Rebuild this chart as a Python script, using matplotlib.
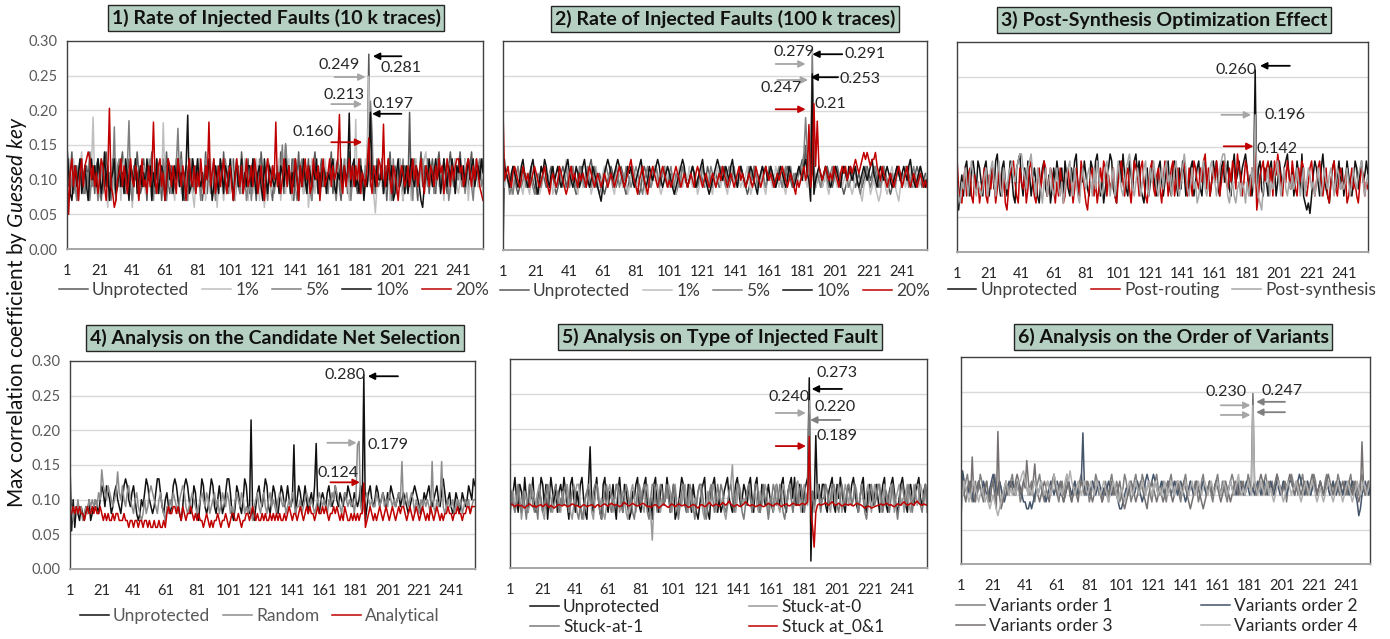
import numpy as np
import matplotlib.pyplot as plt

plt.rcParams['font.family'] = ['Lato', 'DejaVu Sans']
plt.rcParams['mathtext.fontset'] = 'custom'
plt.rcParams['mathtext.rm'] = 'Lato'
plt.rcParams['mathtext.it'] = 'Lato:italic'


def vals(s):
    # values typed in hundredths, 16 per row
    return np.array(s.split(), dtype=float) / 100


# ---------------- data (x = 1..256) ----------------
# 1) rate of injected faults, 10 k traces
p1_unprot = vals("""
13 9 11 14 8 10 12 7 11 13 9 8 12 10 14 9
11 8 12 13 9 7 10 12 14 9 11 8 13 10 7 12
9 12 14 10 8 11 13 9 7 12 10 14 11 8 9 13
10 7 12 11 14 9 8 13 10 12 7 11 9 14 10 8
12 10 8 13 11 9 14 10 7 12 9 11 13 8 10 12
9 13 11 7 10 14 8 12 11 9 13 10 7 11 12 9
14 10 8 12 9 11 13 7 10 12 8 14 11 9 10 13
8 11 13 10 7 12 9 14 11 8 10 13 12 9 7 11
10 12 9 14 11 8 15 10 12 9 13 7 11 10 14 9
12 8 11 10 13 9 7 12 14 10 8 11 13 9 12 10
9 11 14 8 10 12 13 9 7 11 10 12 8 14 11 9
12 10 8 11 13 9 8 11 12 28.1 9 12 10 8 13 11
10 13 9 12 7 11 14 10 8 12 11 9 13 10 7 12
11 9 19.7 8 12 13 10 7 11 14 9 12 10 13 8 11
13 10 8 12 14 11 9 13 10 8 12 14 11 9 13 10
12 14 10 9 13 11 8 12 14 10 11 13 9 12 11 13
""")
p1_1 = vals("""
9 12 8 11 13 10 7 9 12 14 8 10 11 7 9 12
19 9 11 7 8 12 10 13 9 6 11 10 8 12 13 9
12 7 10 13 9 8 11 12 6 9 13 10 7 11 9 12
8 11 13 9 7 10 12 8 11 13 9 18.2 10 7 12 9
11 9 7 12 10 13 8 11 9 7 12 10 13 8 6 10
10 13 9 8 11 7 12 10 13 9 8 11 6 10 12 9
7 10 12 11 8 13 9 7 11 10 12 8 9 13 10 7
12 9 8 10 13 11 7 12 9 6 10 13 11 8 12 10
9 11 13 7 10 12 8 11 13 9 7 10 12 11 8 9
11 8 10 12 6 9 13 10 8 11 12 7 9 10 13 11
8 12 9 11 13 7 10 12 9 8 11 13 10 7 9 12
10 18.7 9 12 11 8 10 13 11 24.9 13 10 8 5.2 9 11
12 9 11 8 10 13 7 9 12 10 8 11 13 9 7 10
9 12 10 7 11 9 13 10 8 12 11 13 14 10 9 12
11 8 13 10 9 12 10 7 11 13 9 8 12 10 13 9
8 10 12 9 13 11 7 10 12 8 11 13 9 10 12 8
""")
p1_5 = vals("""
11 13 8 10 12 9 7 11 13 10 8 12 9 11 7 10
9 12 10 7 11 13 8 10 12 9 11 7 10 17.6 8 12
13 9 11 8 10 12 18.5 9 7 11 13 10 8 12 9 11
10 8 12 13 9 7 11 10 12 8 9 13 11 7 10 12
8 11 9 12 17.4 10 13 8 11 9 7 12 10 13 9 8
12 10 7 11 9 13 10 12 8 11 10 7 12 9 13 10
9 13 11 8 12 10 7 11 13 9 8 12 10 11 7 9
11 7 10 12 9 8 13 10 11 12 9 7 11 10 12 8
10 12 9 11 15 9 15.2 12 10 8 11 13 9 7 10 12
13 9 11 8 10 12 7 9 13 11 10 8 12 10 9 11
8 11 13 10 9 7 12 11 8 10 13 9 11 12 7 10
12 9 10 13 8 11 10 12 9 11 21.3 17 8 12 10 9
10 13 8 9 12 10 11 7 13 9 8 12 10 11 13 8
9 11 12 10 7 13 9 11 10 12 13 8 11 9 12 10
12 8 10 13 11 9 12 8 10 11 7 9 13 10 8 11
10 12 9 11 8 10 13 12 9 7 11 10 12 13 9 10
""")
p1_10 = vals("""
14.8 11 8 7 10 12 9 11 13 8 10 12 9 7 11 13
10 12 9 13 11 8 10 14 9 12 7 10 11 13 8 9
12 9 11 8 13 10 7 12 11 9 13 8 10 12 9 11
9 13 10 12 7 11 9 13 8 10 12 11 7 9 13 10
11 8 12 10 13 9 11 7 10 12 19.3 8 9 13 11 10
13 10 9 11 8 12 10 13 11 7 9 12 10 8 13 11
8 12 11 9 13 10 7 11 12 9 10 13 8 11 9 12
12 9 13 10 8 11 12 9 7 13 10 8 12 11 10 9
10 11 8 12 11 9 13 10 12 8 11 9 13 10 7 12
9 13 10 8 12 11 9 12 10 13 8 11 9 12 11 8
11 10 12 13 9 8 11 10 13 9 12 10 11 19.6 9 12
13 9 10 8 12 11 7 10 9 12 19.7 10 11 9 12 10
10 12 8 11 9 13 10 12 7 8 11 13 9 10 12 8
12 8 11 13 10 9 12 11 9 7 6 9 12 10 13 11
9 11 13 10 12 8 10 13 11 9 12 10 13 11 8 12
11 13 10 12 9 11 13 10 12 13 9 11 12 10 13 11
""")
p1_20 = vals("""
12 5 11 13 9 12 10 7 11 13 9 12 13 14 13 10
12 9 11 8 10 13 12 9 7 11 20.3 9 8 6 7 10
11 13 9 12 10 8 11 13 10 9 12 11 7 10 13 9
10 8 12 9 11 18.3 10 8 12 13 9 11 7 10 13 12
9 12 10 8 13 11 9 12 10 7 11 13 10 9 12 8
11 9 13 10 8 12 10 18.3 9 11 13 8 10 12 9 11
13 10 8 11 12 9 7 10 13 11 9 12 8 10 13 9
10 12 9 13 11 8 10 12 9 7 11 13 10 9 12 10
18.3 9 11 8 10 13 11 9 12 10 8 11 13 10 7 12
9 11 13 10 12 8 9 13 11 10 12 7 11 13 9 10
11 13 9 12 10 11 13 19.4 10 8 12 9 11 13 10 12
9 12 10 13 8 11 10 9 12 16 10 8 12 11 9 13
12 10 18 9 11 13 10 8 12 11 9 7 10 12 11 9
10 12 9 11 13 10 12 9 11 13 10 8 12 11 9 12
11 9 12 10 13 11 12 8 10 13 11 9 12 10 12 13
13 11 12 9 10 12 13 11 9 12 10 13 11 9 8 7
""")

# 2) rate of injected faults, 100 k traces
p2_unprot = vals("""
0 12 11 10 9 10 12 11 9 8 9 11 12 10 9 10
11 12 10 9 8 9 10 12 11 10 9 10 11 12 11 9
8 9 10 11 12 11 9 10 11 12 10 9 8 9 11 12
11 10 9 10 12 13 11 10 9 10 11 10 9 8 9 10
11 12 11 10 9 10 11 12 11 9 8 9 10 11 12 11
10 9 8 9 11 12 11 10 9 10 11 12 12 10 9 10
11 12 10 9 10 11 10 9 8 9 10 11 12 11 10 9
10 11 12 11 10 9 10 11 10 9 10 12 11 10 9 10
11 10 9 10 11 12 11 10 9 10 11 10 9 10 11 12
11 10 9 8 9 10 11 12 11 10 9 10 11 10 9 10
11 12 11 10 9 10 11 10 9 10 11 12 11 10 9 10
11 10 11 12 13 12 15 11 10 9 24.7 10 9 10 11 10
9 10 11 12 11 10 9 10 11 12 11 10 9 8 9 10
11 12 11 10 9 10 11 10 9 10 11 12 11 10 11 12
11 10 9 10 11 12 11 10 9 8 9 10 11 12 11 10
9 10 11 12 11 10 9 10 11 12 11 10 9 10 11 10
""")
p2_1 = vals("""
10 9 11 12 10 8 9 11 10 12 11 9 8 10 11 9
8 10 12 11 9 10 8 9 11 12 10 9 11 10 8 9
11 12 10 9 10 11 13 11 9 10 12 11 9 8 10 11
9 10 12 11 10 8 9 11 12 10 9 10 11 12 10 9
10 11 9 8 10 12 11 10 9 11 10 8 9 11 12 10
11 9 10 12 11 9 8 10 11 9 10 12 11 10 9 8
9 11 12 10 9 10 11 9 8 10 12 11 9 10 11 10
12 10 9 11 10 8 9 11 12 10 9 11 10 9 8 10
11 12 10 9 11 10 9 8 10 11 12 10 9 11 10 9
10 9 11 12 10 8 9 10 12 11 9 10 11 9 8 10
11 10 9 10 12 11 9 10 11 9 8 10 12 11 10 9
10 11 9 10 11 12 10 9 11 12 29.1 11 9 10 12 10
9 10 11 9 8 10 11 12 10 9 10 11 9 10 11 9
10 9 8 9 11 10 9 8 7 9 10 11 10 8 9 10
9 8 7 8 10 11 9 8 9 11 12 10 9 8 7 9
10 11 9 10 12 11 10 9 10 11 9 10 11 9 10 11
""")
p2_5 = vals("""
12 13 11 10 8 9 8 10 11 12 10 9 10 11 9 10
11 10 9 8 9 11 10 9 11 12 11 10 9 10 11 10
9 10 11 10 9 11 12 10 9 11 12 10 9 10 12 11
10 9 11 12 10 9 10 12 11 9 8 9 10 11 12 11
10 11 9 10 12 11 9 10 11 10 12 11 10 9 10 11
12 11 10 9 8 10 11 12 10 9 10 11 12 11 9 10
11 12 10 9 11 12 10 9 11 10 9 10 12 11 10 9
10 11 12 11 9 10 11 10 12 11 10 9 10 12 11 10
9 10 11 12 11 10 9 11 12 10 11 12 10 9 11 12
11 10 9 10 12 11 10 12 11 9 10 11 12 10 9 10
12 11 10 9 10 11 12 10 9 11 12 10 11 12 10 11
10 11 12 11 12 14 19 14 11 10 27.9 12 10 11 10 9
10 11 12 10 9 11 12 10 11 12 10 9 11 12 11 10
9 10 11 12 11 10 9 8 10 11 12 11 10 9 10 11
12 11 10 9 10 12 11 10 9 10 11 10 9 11 12 10
11 10 12 11 9 10 11 12 10 9 11 12 10 9 10 10
""")
p2_10 = vals("""
11 12 11 10 9 11 12 11 10 9 10 12 13 11 10 9
10 12 13 11 9 8 10 12 11 13 12 10 9 11 12 10
11 12 10 9 10 11 12 13 11 10 9 10 12 11 9 10
12 13 11 10 9 10 12 11 10 9 8 7 9 11 12 13
12 11 10 11 12 13 12 11 10 9 10 12 11 12 10 9
10 11 12 13 11 10 9 10 12 11 10 11 12 13 12 10
9 10 11 12 11 10 9 8 9 10 11 12 13 12 10 9
10 11 12 11 9 10 11 12 13 11 10 9 8 9 10 11
12 13 12 11 10 11 12 11 10 12 13 11 10 9 11 12
11 10 9 10 11 12 11 10 9 8 10 11 12 11 12 10
11 12 11 10 9 10 11 12 11 10 9 10 12 11 10 9
10 11 12 11 10 12 13 11 10 7 25.3 8 10 11 12 11
10 11 12 11 10 9 10 11 12 11 10 9 11 12 11 10
12 11 10 11 12 10 9 10 11 12 11 10 11 12 13 11
10 9 11 12 11 10 11 12 11 10 9 10 11 12 11 10
11 12 11 10 12 13 11 10 9 10 11 12 11 10 9 10
""")
p2_20 = vals("""
20 10 11 12 10 9 11 12 11 10 9 10 12 11 10 11
9 10 11 12 11 10 9 10 11 12 10 9 8 10 11 10
9 10 12 11 10 9 8 9 11 12 10 11 10 9 11 10
11 10 9 11 12 11 10 9 10 11 10 9 10 11 10 9
10 11 10 9 10 11 12 11 10 9 10 11 12 13 11 10
9 8 10 11 12 10 9 8 10 11 12 11 10 9 10 11
12 11 10 9 10 9 10 11 12 11 10 9 10 11 10 9
10 11 10 9 11 12 11 10 9 10 11 10 9 10 11 10
9 10 11 10 12 11 10 9 10 11 10 9 10 11 12 10
11 10 9 10 11 10 9 10 12 11 10 9 10 11 12 11
10 11 10 9 10 11 10 11 12 11 10 9 10 11 10 9
8 10 9 10 11 12 10 11 18 9 11 21 12 18.5 12 11
10 11 12 11 10 11 10 12 11 10 9 11 12 11 12 10
11 12 11 12 13 12 11 12 13 14 13 14 13 12 13 13
14 12 11 10 12 11 10 9 10 11 10 9 10 11 12 11
9 10 11 12 10 9 10 11 10 9 10 11 10 9 10 9
""")

# 3) post-synthesis optimization effect
p3_unprot = vals("""
7 6 9 11 8 12 13 10 8 12 13 11 9 13 12 10
8 12 13 10 8 11 12 9 13 14 10 8 12 13 10 8
10 13 11 8 7 12 13 14 10 8 12 9 13 11 8 10
12 10 8 7 10 12 13 9 8 11 7 9 12 10 13 11
9 12 8 13 11 9 8 12 10 13 14 9 8 12 10 13
11 9 8 13 12 10 13 14 11 8 10 7 9 11 12 14
13 9 8 7 12 13 10 14 11 9 8 13 11 9 13 14
11 13 9 8 7 10 12 8 10 13 11 9 8 12 13 10
8 10 12 13 9 8 12 13 10 8 12 9 13 11 8 10
9 12 13 8 10 12 13 9 8 12 13 10 11 8 10 13
11 13 9 8 12 13 10 11 13 9 8 12 14 10 11 13
10 12 13 14 12 9 11 8 10 26 8 12 13 9 8 12
10 8 12 13 9 12 8 10 13 11 9 12 13 14 11 9
12 8 10 13 11 9 14 8 7 6 7 5.5 8 11 13 12
10 8 12 14 11 9 8 7 10 12 13 9 11 13 9 12
8 10 13 11 9 8 10 13 12 9 11 13 10 11 13 11
""")
p3_routing = vals("""
13.5 9 8 7 10 12 8 11 12 8 7 11 9 10 7 9
10 12 8 7 11 9 12 10 7 9 12 10 8 11 7 6
9 11 12 13 10 8 7 12 10 9 11 7 9 12 13 10
8 7 10 12 9 11 13 12 8 10 12 11 9 7 10 8
12 10 7 8 11 12 9 10 7 9 12 10 8 13 11 9
7 6 9 11 12 8 10 7 9 12 10 13 12 8 11 9
10 12 8 7 10 12 13 10 8 11 12 9 7 10 13 12
11 8 12 13 10 8 7 10 12 13 9 8 11 12 9 7
10 13 12 8 10 12 13 8 10 12 9 11 12 13 10 8
12 10 8 13 12 10 9 12 10 13 14 9 12 8 10 12
10 13 11 8 10 12 13 10 9 12 10 13 12 9 14 12
11 8 10 13 12 9 8 12 10 14.2 6 8 11 12 13 10
12 13 10 12 8 13 11 14 12 10 8 12 10 13 11 9
13 11 9 8 12 10 13 12 9 8 10 12 13 10 8 10
12 13 10 8 10 12 8 7 10 12 13 9 8 11 12 10
9 11 7 8 10 12 9 10 8 7 10 12 11 8 10 9
""")
p3_synth = vals("""
10 8 7 10 9 12 10 8 11 13 11 9 8 10 9 8
9 11 12 8 10 12 13 10 8 11 13 9 8 12 10 9
11 12 13 11 10 12 13 14 14 12 11 9 12 13 14 11
10 8 12 10 9 7 10 12 8 10 12 9 8 10 12 9
8 10 7 9 11 12 13 10 8 12 10 8 7 10 12 10
9 11 12 10 8 12 9 13 11 9 8 10 12 13 10 8
10 12 8 10 13 11 9 8 10 12 13 14 12 9 8 10
12 10 8 10 12 13 9 8 12 10 13 11 9 8 10 12
9 12 13 10 11 8 10 12 13 9 8 10 12 14 12 9
8 10 12 9 10 7 8 10 12 13 9 8 10 12 13 11
10 8 10 12 13 14 14 11 8 7 9 10 8 7 9 10
8 10 9 7 10 8 10 12 9 19.6 10 8 7 6 9 10
10 12 8 10 9 11 12 13 10 8 10 12 9 8 10 9
11 9 10 12 10 8 10 12 8 10 12 11 9 10 8 10
12 10 8 10 12 10 9 11 12 10 8 10 12 11 9 10
9 10 12 10 8 10 12 10 9 11 12 13 10 8 10 11
""")

# 4) candidate net selection
p4_unprot = vals("""
15 5.5 10 6 9 8 7 9 8 7 9 8 10 7 8 9
10 9 8 10 12 11 9 12 11 10 8 9 11 12 10 9
8 10 12 13 12 10 9 11 12 10 8 7 8 10 9 11
13 12 10 9 8 9 11 13 13 11 9 8 10 11 9 8
9 12 13 12 10 8 7 9 12 13 12 10 8 9 12 11
8 7 10 13 12 9 8 9 11 13 12 9 8 10 12 10
8 9 11 13 13 11 8 7 9 12 11 9 8 10 13 12
9 8 21.5 8 7 9 11 12 10 9 11 13 12 9 8 10
12 11 9 8 10 12 11 9 10 12 10 9 10 17.9 8 10
12 11 9 10 12 10 8 10 11 9 12 18.1 9 8 10 11
10 9 11 12 10 9 10 12 10 9 11 10 9 11 10 12
11 10 9 11 10 9 10 12 9 28 7 9 11 12 10 9
10 12 11 9 10 11 10 9 11 10 12 11 10 9 10 11
9 10 11 10 9 8 9 10 11 12 11 10 9 8 9 11
10 11 12 10 9 10 11 12 10 9 11 13 11 9 10 11
9 8 9 11 10 8 9 11 10 9 10 12 11 10 13 12
""")
p4_random = vals("""
8 9 7 9 8 10 8 9 7 8 9 8 10 9 10 9
10 9 11 10 14.3 12 11 10 12 11 10 9 10 11 14 11
10 12 10 9 11 12 10 9 8 10 11 9 8 7 8 10
8 9 11 12 11 10 9 8 10 11 9 8 7 9 8 10
9 11 10 9 8 10 11 12 11 9 8 9 10 11 10 9
8 9 10 11 10 9 11 10 8 9 10 11 9 10 8 9
11 10 9 11 10 8 9 8 10 11 10 9 11 10 8 9
8 9 8 7 9 10 11 9 8 10 11 9 8 10 11 9
10 9 8 10 11 10 9 10 8 9 10 9 11 10 8 9
9 10 8 9 10 11 10 9 10 9 8 9 10 11 10 9
10 9 8 10 9 11 10 12 11 10 9 8 10 11 10 9
10 9 10 8 10 17.9 18.4 9 8 9 10 11 10 9 10 9
9 11 10 9 10 11 9 10 9 11 10 9 10 9 10 11
10 15.5 9 10 11 9 10 11 10 8 10 9 8 10 9 10
9 10 9 8 15.5 9 8 10 9 10 15.5 9 8 9 10 9
9 10 8 9 10 9 10 8 9 10 9 10 8 9 10 10
""")
p4_analytical = vals("""
8 8 9 8 9 8 9 8 8 7 8 9 8 8 9 8
9 8 8 9 8 7 8 7 8 7 7 8 7 8 8 7
7 7 8 7 7 6 7 7 6 7 7 6 7 7 6 7
7 6 7 6 6 7 6 6 7 6 6 7 6 8 9 8
8 9 9 8 9 8 7 9 8 7 8 8 9 8 7 8
7 8 7 7 6 7 8 7 6 7 6 7 7 8 7 6
7 7 8 7 6 7 8 8 7 7 8 7 6 7 7 8
8 7 8 9 8 7 8 7 7 8 7 8 7 7 8 7
8 7 8 7 8 7 7 8 7 8 9 8 7 8 8 7
8 9 8 7 8 9 8 9 8 8 7 8 9 8 8 9
8 9 8 7 8 8 9 8 9 8 7 8 7 9 8 7
7 8 7 8 7 8 7 8 8 12.4 6 7 8 9 8 7
8 7 8 9 8 7 8 9 8 7 8 9 8 7 8 9
8 9 9 8 7 8 9 8 7 8 9 8 7 8 9 8
7 8 7 9 8 7 8 9 8 7 8 7 8 8 9 8
8 7 8 8 9 8 8 7 8 8 9 9 8 9 9 9
""")

# 5) type of injected fault
p5_unprot = vals("""
12 9 11 13 10 8 12 11 9 13 10 8 12 10 13 9
8 11 10 13 12 9 12 7 10 13 11 9 12 8 11 12
10 13 11 9 7 12 13 10 8 11 9 12 13 10 8 7
12 17.4 9 8 11 13 10 8 7 12 13 9 8 11 10 12
9 7 11 13 10 8 12 11 9 7 8 11 10 12 13 9
8 10 12 13 9 8 10 7 12 13 9 8 11 12 9 10
13 11 8 10 12 7 8 9 11 13 12 9 8 12 10 8
12 10 8 7 9 11 12 13 9 8 7 11 12 13 10 8
10 8 9 11 12 13 10 9 8 10 12 13 11 9 10 12
11 9 12 13 10 8 12 13 9 8 12 11 9 10 12 10
9 8 11 12 10 9 12 13 9 8 11 12 13 10 13 9
9 12 10 8 11 12 13 27.3 1 11 9 19 10 12 9 12
12 9 8 11 12 13 9 8 12 10 13 11 9 8 11 12
10 12 13 11 9 8 10 12 13 9 8 11 12 10 9 11
12 10 8 10 12 13 9 8 11 12 13 11 9 8 10 12
13 11 9 8 11 12 10 9 11 12 13 10 9 11 12 10
""")
p5_sa0 = vals("""
8 10 11 8 9 12 10 7 9 11 10 8 9 12 11 10
9 11 12 9 8 7 10 11 12 10 8 9 10 11 9 8
11 9 10 12 10 8 7 9 11 12 12 9 8 7 10 11
9 11 8 7 10 12 11 9 10 8 7 9 11 12 10 8
10 12 11 8 9 11 10 8 7 9 11 12 10 8 10 12
11 9 8 11 12 9 8 4 9 11 12 10 8 10 9 11
10 12 11 8 10 12 9 8 10 9 11 12 10 8 11 9
8 10 9 11 12 10 8 7 9 11 9 10 12 11 8 10
11 9 10 8 7 9 11 12 14.8 10 8 10 12 11 9 10
9 11 12 10 8 10 11 9 8 11 9 10 12 11 8 10
10 8 11 12 9 8 10 12 11 9 10 12 10 8 11 12
12.5 10 8 11 12 10 9 24 9 11 8 10 12 11 9 10
10 12 11 9 8 11 12 9 10 12 10 8 10 12 11 9
11 9 10 12 11 8 10 12 10 9 11 12 10 8 10 12
10 12 11 8 10 12 11 9 10 12 11 8 10 11 12 9
10 8 11 12 9 8 10 12 11 9 10 12 11 9 12 8
""")
p5_sa1 = vals("""
7 11 9 8 10 12 9 8 11 9 7 10 12 11 9 8
9 7 11 10 8 9 11 12 9 8 10 11 12 10 8 10
9 11 12 10 8 9 11 12 10 8 7 9 7 8 10 11
12 10 9 11 12 12 10 8 7 9 11 12 10 9 8 10
10 12 12 11 9 8 10 12 11 9 10 8 7 9 11 12
9 11 12 10 8 7 10 12 12 10 8 10 12 11 9 10
12 10 8 10 12 11 9 7 9 11 12 10 8 10 12 11
9 7 9 11 12 12 10 8 7 9 11 12 10 8 10 12
10 12 11 9 8 9 11 12 10 8 10 12 12 10 8 7
9 11 12 10 8 10 12 12 10 8 10 12 10 9 7 9
10 12 11 9 10 12 10 8 7 9 11 12 10 8 10 12
9 11 12 10 8 10 11 22 9 11 9 10 12 10 8 10
10 12 11 9 10 12 12 11 9 8 10 12 10 9 11 12
11 9 10 12 10 8 10 12 10 8 7 9 11 12 10 9
10 12 12 10 8 10 11 10 8 10 12 10 9 7 9 11
12 10 9 11 12 10 8 10 12 12 11 9 8 10 12 9
""")
p5_sa01 = vals("""
9 9.2 9 8.8 9 9.1 8.9 9 8.8 8.6 8.9 9 9.2 9 8.8 9
8.7 8.9 9 9.1 8.8 9 9.2 8.9 8.7 9 8.8 8.6 8.8 9 9.1 9
8.9 9.1 9 8.8 8.9 9 9.2 9.1 8.9 9 8.8 8.7 8.9 9.1 9 8.8
8.9 9 9.1 8.9 8.7 9 9.1 8.8 8.9 9.1 9.2 9 8.9 9.1 9.3 9.1
9 9.1 9 8.8 8.9 9.2 9.4 9.2 9 8.9 9.1 9.3 9.1 9 8.9 9
9.1 9.3 9.2 9 8.8 8.9 8.7 8.9 9 9.1 8.9 8.6 8.8 9 9.2 9
8.8 8.7 9 9.2 9 8.8 9 9.2 9.1 8.9 9 9.1 8.9 8.7 8.8 9
9.1 9 8.8 8.6 8.9 9.1 9 8.8 8.9 9.2 9.4 9.1 8.9 9 9.2 9
8.9 9.1 9.4 9.2 9 9.3 9.6 9.2 9 8.8 9 9.1 8.9 8.8 9 9.2
9.5 9.3 9 8.9 9.1 9 8.8 8.9 9 9.1 8.9 8.8 8.9 9.1 9.3 9.1
9 8.9 9.1 9.3 9.2 9 8.8 9 9.1 9.2 9 8.9 9.1 9.3 9.2 9
9.1 9 9.2 9.3 9.1 9.2 9.5 18.9 8 6 3 8 9 9.2 9 9.1
9.2 9.4 9.1 9 9.3 9.5 9.2 9 9.1 9.3 9.1 8.9 9 9.2 9.1 9
9.2 9 8.9 9.1 9.3 9.2 9.1 9 8.8 8.6 8.7 8.9 8.8 8.6 8.7 8.8
8.9 9 9.1 9.2 9 9.1 9.3 9.2 9 9.1 8.9 8.8 9 9.2 9.1 9
9.3 9.5 9.2 9 9.1 9.3 9.2 9 9.4 9.6 9.3 9.1 9 9.2 9.1 9
""")

# 6) order of variants
p6_o1 = vals("""
12 11 10 12 13 11 10 9 11 12 10 11 13 12 10 11
12 10 9 11 12 13 11 10 12 11 9 10 12 11 10 12
13 11 10 12 11 9 10 12 13 11 10 11 12 10 9 11
12 13 11 10 9 11 12 11 10 12 13 11 10 9 11 12
10 11 13 12 10 9 11 12 10 11 12 13 11 10 12 11
9 10 12 11 13 12 10 11 9 10 12 11 10 12 13 11
10 12 11 9 10 11 13 12 10 11 9 10 12 13 11 10
11 13 12 10 11 12 10 9 11 12 13 11 10 11 12 10
9 11 12 13 11 10 12 11 10 9 11 12 13 11 10 12
11 10 12 11 9 10 12 13 11 10 11 12 10 9 11 12
13 11 10 12 11 10 9 11 12 13 12 10 11 12 10 11
12 10 11 13 12 10 11 12 10 11 12 11 10 12 13 11
10 11 12 10 11 13 12 11 10 12 11 9 11 12 13 12
11 12 10 11 12 13 11 10 12 11 10 11 13 12 10 11
12 11 10 12 13 11 10 11 12 10 11 13 12 11 10 12
11 10 12 13 11 10 12 11 10 12 13 11 10 11 12 10
""")
p6_o2 = vals("""
6 13.5 12 11 10 11 12 10 9 10 11 12 11 10 12 11
10 9 11 12 13 12 10 11 12 11 10 9 10 11 12 11
12 11 10 11 12 11 10 9 9 8 8 9 8 9 10 11
10 11 12 11 10 9 10 11 12 11 10 11 12 11 10 10
9 10 11 12 11 10 11 12 11 10 11 12 19 11 10 11
10 11 12 11 10 11 12 11 10 11 10 11 12 11 10 11
11 10 9 8 8 9 10 11 10 11 12 11 10 11 12 11
10 9 10 12 13 12 11 12 13 12 11 10 11 12 11 10
11 12 11 10 11 12 11 10 11 12 11 10 9 10 11 12
11 10 11 12 11 10 11 12 11 10 11 12 11 10 11 12
12 11 10 11 12 11 10 11 12 11 10 11 10 11 12 11
10 11 12 11 10 11 11 10 11 12 11 10 11 12 11 10
11 12 11 10 11 12 11 10 11 12 11 10 11 12 12 11
10 11 12 13 12 11 10 11 12 11 10 11 12 11 10 11
12 11 10 11 12 11 10 11 12 11 10 11 12 11 10 11
12 11 10 11 12 11 10 9 7 8 10 11 12 11 10 11
""")
p6_o3 = vals("""
11 12 10 9 11 12 10 15.5 10 9 11 12 11 10 9 11
12 10 9 11 12 10 8 19.2 10 8 9 11 12 10 11 12
11 10 12 13 12 10 11 12 11 15 12 10 11 12 14.5 11
10 9 10 11 12 11 10 9 11 12 13 11 10 11 12 10
9 10 11 12 10 9 10 11 10 9 11 12 11 10 11 12
11 10 9 10 11 12 11 10 9 10 11 10 9 11 12 10
11 10 11 12 10 9 8 9 10 11 12 11 10 9 10 11
12 11 10 9 8 10 11 12 11 10 9 10 11 10 9 10
11 12 11 10 9 10 11 12 11 10 11 12 11 10 9 8
9 10 11 12 11 10 9 8 9 10 11 12 11 10 11 12
11 10 9 10 11 12 11 10 9 10 11 12 11 10 11 12
11 10 11 12 11 12 24.7 12 10 11 12 13 12 11 10 11
12 11 10 11 12 13 12 11 10 11 12 11 12 13 12 11
10 11 12 11 10 11 12 11 10 11 12 13 12 11 10 11
12 11 10 11 12 13 12 11 10 11 12 11 10 11 12 11
10 11 12 11 10 12 11 10 9 10 17.7 11 10 11 12 11
""")
p6_o4 = vals("""
11 10 12 11 10 9 10 11 12 11 10 9 10 11 10 9
10 9 8 9 10 9 8 7 8 9 10 11 12 11 10 11
10 11 10 11 12 12 13 13.5 12 11 10 11 10 11 12 11
10 11 12 11 10 11 12 11 10 11 13 12 11 10 11 10
11 12 13 12 13.5 12 11 10 11 12 11 10 11 12 11 10
11 12 11 10 11 12 11 10 11 12 11 10 9 10 11 12
11 10 9 10 11 10 9 10 11 12 11 10 11 12 11 10
11 12 11 10 11 12 11 10 11 12 11 10 11 10 11 12
11 10 11 12 11 10 11 12 12 11 10 11 12 11 10 11
12 11 10 11 12 11 10 11 12 11 10 11 12 11 10 11
12 11 10 11 12 11 10 11 12 11 10 11 12 13 11 10
11 10 11 12 11 10 23 12 11 10 11 12 11 10 11 12
10 11 10 9 10 11 12 11 10 9 10 11 12 11 10 11
11 12 11 10 9 10 11 12 11 10 11 12 11 10 9 10
11 10 9 10 11 12 11 10 9 10 11 12 11 10 9 10
11 12 11 10 9 10 11 12 11 10 11 12 11 10 11 12
""")

titles = ["1) Rate of Injected Faults (10 k traces)",
          "2) Rate of Injected Faults (100 k traces)",
          "3) Post-Synthesis Optimization Effect",
          "4) Analysis on the Candidate Net Selection",
          "5) Analysis on Type of Injected Fault",
          "6) Analysis on the Order of Variants"]

rate_labels = ["Unprotected", "1%", "5%", "10%", "20%"]
rate_colors = ["#595959", "#bfbfbf", "#7f7f7f", "#111111", "#c00000"]

panels = [
    ([p1_unprot, p1_1, p1_5, p1_10, p1_20], rate_labels, rate_colors),
    ([p2_unprot, p2_1, p2_5, p2_10, p2_20], rate_labels, rate_colors),
    ([p3_unprot, p3_routing, p3_synth],
     ["Unprotected", "Post-routing", "Post-synthesis"],
     ["#111111", "#c00000", "#a6a6a6"]),
    ([p4_unprot, p4_random, p4_analytical],
     ["Unprotected", "Random", "Analytical"],
     ["#111111", "#8c8c8c", "#c00000"]),
    ([p5_unprot, p5_sa0, p5_sa1, p5_sa01],
     ["Unprotected", "Stuck-at-0", "Stuck-at-1", "Stuck at_0&1"],
     ["#111111", "#999999", "#7a7a7a", "#c00000"]),
    ([p6_o1, p6_o2, p6_o3, p6_o4],
     ["Variants order 1", "Variants order 2", "Variants order 3", "Variants order 4"],
     ["#7f7f7f", "#44546a", "#767171", "#b0b0b0"]),
]

# peak annotations: (label, label x, label y, arrow tail x, arrow head x, arrow y, colour)
notes = [
    [("0.249", 168, 0.265, 165, 184, 0.248, "#a6a6a6"),
     ("0.281", 206, 0.261, 206, 188.5, 0.278, "#000000"),
     ("0.213", 171, 0.222, 163, 182, 0.209, "#a6a6a6"),
     ("0.197", 201, 0.209, 206, 188, 0.195, "#000000"),
     ("0.160", 152, 0.169, 163, 182, 0.154, "#c00000")],
    [("0.279", 176, 0.284, 165, 183, 0.267, "#a6a6a6"),
     ("0.291", 219, 0.281, 205, 187, 0.281, "#000000"),
     ("0.247", 168, 0.233, 166, 184.5, 0.244, "#a6a6a6"),
     ("0.253", 216, 0.245, 202.5, 186, 0.248, "#000000"),
     ("0.21", 198, 0.209, 165, 183, 0.202, "#c00000")],
    [("0.260", 174, 0.260, 207.5, 189, 0.266, "#000000"),
     ("0.196", 204.5, 0.196, 165, 183.5, 0.196, "#a6a6a6"),
     ("0.142", 199.5, 0.147, 166.5, 185, 0.151, "#c00000")],
    [("0.280", 174, 0.280, 207.5, 188.5, 0.278, "#000000"),
     ("0.179", 201, 0.179, 163, 181.5, 0.182, "#a6a6a6"),
     ("0.124", 170, 0.138, 165, 183.5, 0.125, "#c00000")],
    [("0.273", 201, 0.280, 204, 185.5, 0.257, "#000000"),
     ("0.240", 171.5, 0.245, 163.5, 182, 0.2225, "#a6a6a6"),
     ("0.220", 200, 0.231, 203, 184.5, 0.2125, "#7f7f7f"),
     ("0.189", 201, 0.189, 163.5, 182, 0.175, "#c00000")],
    [("0.230", 166, 0.249, 163, 181.5, 0.230, "#a6a6a6"),
     ("", 0, 0, 163, 181.5, 0.216, "#a6a6a6"),
     ("0.247", 201, 0.251, 203, 185, 0.235, "#7f7f7f"),
     ("", 0, 0, 203, 185, 0.220, "#7f7f7f")],
]

# pixel boxes of plot areas (left, top, right, bottom) and title / legend centres
W, H = 1390, 639
boxes = [(67, 41, 483, 249), (503, 41, 927, 250), (957, 42, 1368, 252),
         (70, 361, 475, 569), (510, 359, 927, 568), (961, 357, 1370, 564)]
title_xy = [(276, 18), (725, 19), (1164, 20), (275, 338), (720, 337), (1173, 337)]
legend_xy = [(274, 290), (715, 291), (1162, 290), (260, 616), (707, 617), (1157, 616)]

fig = plt.figure(figsize=(W / 100, H / 100), dpi=100)

for i, (series, labels, colors) in enumerate(panels):
    l, t, r, b = boxes[i]
    ax = fig.add_axes([l / W, 1 - b / H, (r - l) / W, (b - t) / H])
    lines = []
    for y, lab, c in zip(series, labels, colors):
        ln, = ax.plot(np.arange(1, len(y) + 1), y, color=c, lw=1.1, label=lab)
        lines.append(ln)
    ax.set_xlim(1, 256)
    ax.set_ylim(0, 0.30)
    ax.set_xticks(np.arange(1, 256, 20))
    ax.set_yticks(np.arange(0, 0.301, 0.05))
    for gy in np.arange(0.05, 0.26, 0.05):
        ax.axhline(gy, color="#d9d9d9", lw=1.0, zorder=0)
    ax.tick_params(length=0, labelsize=10.5)
    ax.tick_params(axis="x", pad=11, labelcolor="#262626")
    ax.tick_params(axis="y", pad=7, labelcolor="#595959")
    if i not in (0, 3):
        ax.set_yticklabels([])
    for side in ("top", "left", "right"):
        ax.spines[side].set_color("#404040")
        ax.spines[side].set_linewidth(1.0)
    ax.spines["bottom"].set_color("#a6a6a6")
    ax.spines["bottom"].set_linewidth(1.4)

    for lab, tx, ty, x0, x1, ya, c in notes[i]:
        ax.annotate("", xy=(x1, ya), xytext=(x0, ya),
                    arrowprops=dict(arrowstyle="-|>", color=c, lw=1.3,
                                    mutation_scale=10, shrinkA=0, shrinkB=0))
        if lab:
            ax.text(tx, ty, lab, ha="center", va="center", fontsize=11.5, color="#262626")

    tx, ty = title_xy[i]
    fig.text(tx / W, 1 - ty / H, titles[i], ha="center", va="center",
             fontsize=14, fontweight="bold", color="#111111",
             bbox=dict(boxstyle="square,pad=0.2", fc="#b5d0c2", ec="#262626", lw=1.0))

    lx, ly = legend_xy[i]
    if len(series) == 4:
        order = [0, 2, 1, 3]
        ax.legend([lines[k] for k in order], [labels[k] for k in order],
                  ncol=2, loc="center", bbox_to_anchor=(lx / W, 1 - ly / H),
                  bbox_transform=fig.transFigure, frameon=False, fontsize=12.5,
                  handlelength=1.65, handletextpad=0.25, columnspacing=5.1,
                  labelspacing=0.25, borderpad=0, labelcolor="#262626")
    else:
        ax.legend(ncol=len(series), loc="center", bbox_to_anchor=(lx / W, 1 - ly / H),
                  bbox_transform=fig.transFigure, frameon=False, fontsize=12.5,
                  handlelength=1.65, handletextpad=0.25, columnspacing=0.75,
                  borderpad=0, labelcolor="#404040" if i != 3 else "#595959")

fig.text(17 / W, 1 - 312 / H, r"Max correlation coefficient by $\mathit{Guessed\ key}$",
         rotation=90, ha="center", va="center", fontsize=15, color="#111111")

fig.savefig("out.png", dpi=100)
